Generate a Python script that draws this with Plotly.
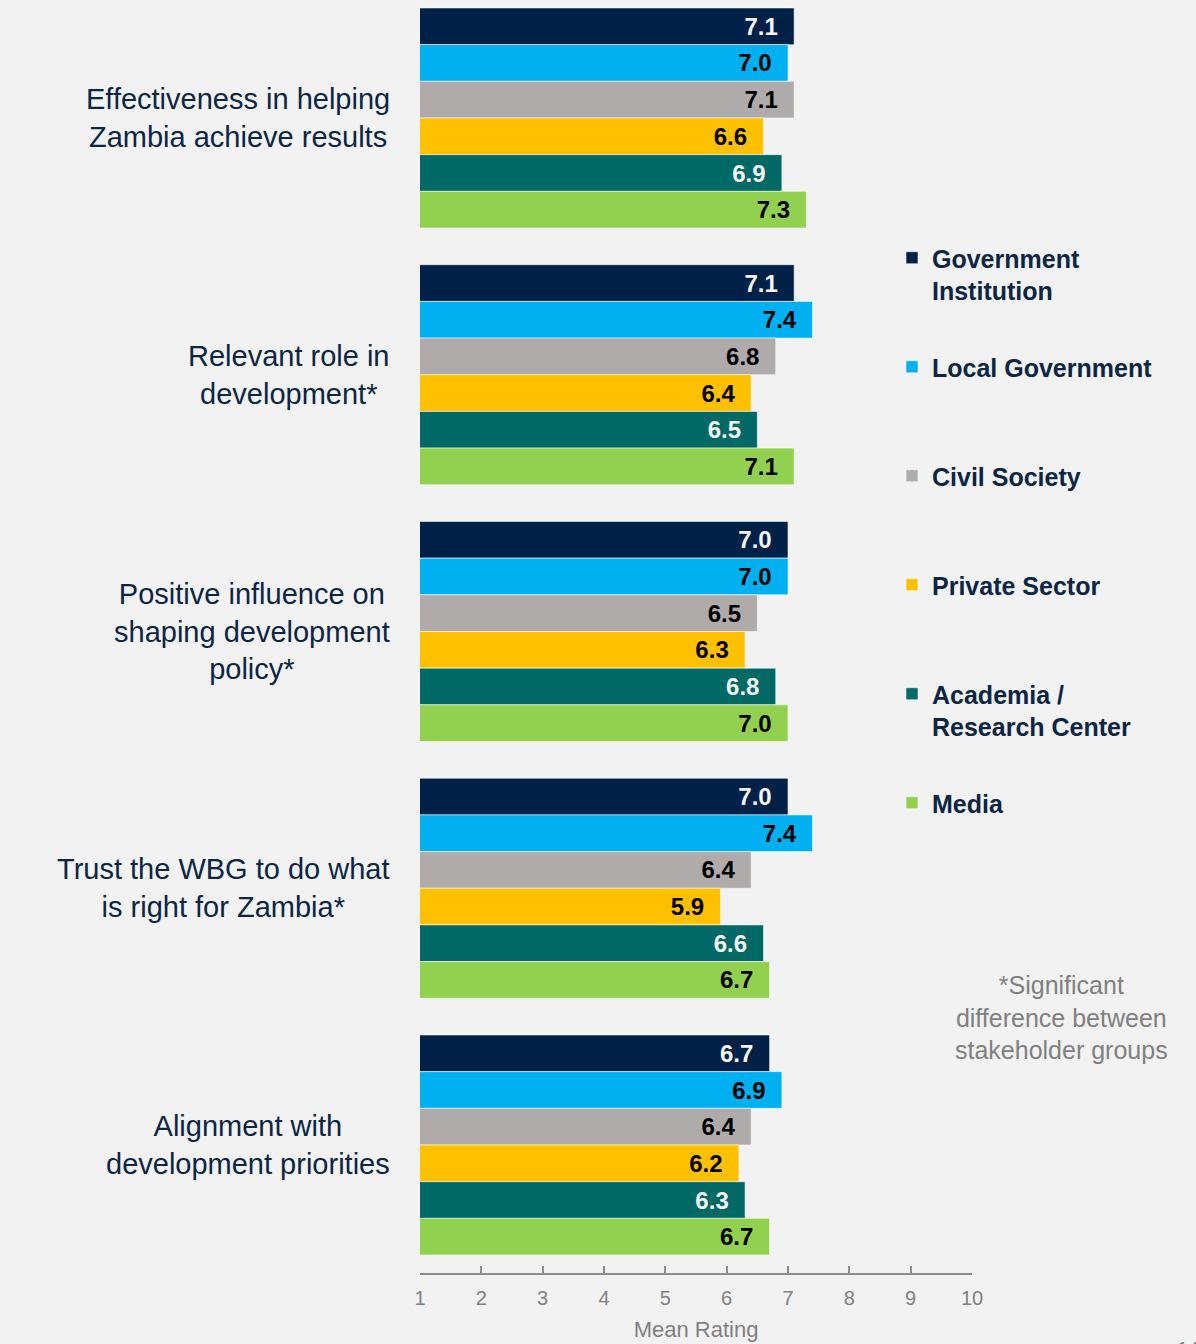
import plotly.graph_objects as go

categories = [
    "Effectiveness in helping<br>Zambia achieve results",
    "Relevant role in<br>development*",
    "Positive influence on<br>shaping development<br>policy*",
    "Trust the WBG to do what<br>is right for Zambia*",
    "Alignment with<br>development priorities",
]
cat_keys = ["Effectiveness", "Relevant", "Positive", "Trust", "Alignment"]

groups = ["Government<br>Institution", "Local Government<br> ", "Civil Society<br> ",
          "Private Sector<br> ", "Academia /<br>Research Center", "Media<br> "]

gov_inst = [7.1, 7.1, 7.0, 7.0, 6.7]
local_gov = [7.0, 7.4, 7.0, 7.4, 6.9]
civil_soc = [7.1, 6.8, 6.5, 6.4, 6.4]
private_sec = [6.6, 6.4, 6.3, 5.9, 6.2]
academia = [6.9, 6.5, 6.8, 6.6, 6.3]
media = [7.3, 7.1, 7.0, 6.7, 6.7]

series = [gov_inst, local_gov, civil_soc, private_sec, academia, media]
colors = ["#002147", "#00B0F0", "#AFABAA", "#FFC000", "#006865", "#92D050"]
text_colors = ["#F4F4F4", "black", "black", "black", "#F4F4F4", "black"]

ticks = [1, 2, 3, 4, 5, 6, 7, 8, 9, 10]

NAVY = "#0B2545"
GRAY = "#808080"
FONT = "Liberation Sans, Arial, sans-serif"
NARROW = "Liberation Sans Narrow, Arial Narrow, Liberation Sans, Arial, sans-serif"
PAD = "\u00a0\u00a0"

fig = go.Figure()
for name, vals, col, tcol in zip(groups, series, colors, text_colors):
    fig.add_trace(go.Bar(
        y=cat_keys, x=vals, name=name, orientation="h",
        marker=dict(color=col, line=dict(color="rgba(255,255,255,0.55)", width=1)),
        text=[f"{v:.1f}{PAD}" for v in vals],
        textposition="inside", insidetextanchor="end",
        textfont=dict(family=FONT, size=24, color=tcol, weight="bold"),
        legendgroup=name,
    ))

for key, label in zip(cat_keys, categories):
    fig.add_annotation(
        x=0, xref="paper", y=key, yref="y", xanchor="right", xshift=-28,
        text=label, showarrow=False, align="center",
        font=dict(family=FONT, size=29, color=NAVY),
    )

fig.add_annotation(
    x=(1061 - 420) / 552, xref="paper", y=1 - 1017 / 1273, yref="paper",
    text="*Significant<br>difference between<br>stakeholder groups",
    showarrow=False, align="center", xanchor="center", yanchor="middle",
    font=dict(family=FONT, size=25, color=GRAY),
)
fig.add_annotation(
    x=(1188 - 420) / 552, xref="paper", y=1 - 1349 / 1273, yref="paper",
    text="14", showarrow=False, xanchor="center", yanchor="middle",
    font=dict(family=FONT, size=20, color=GRAY),
)

fig.update_layout(
    width=1196, height=1344,
    margin=dict(l=420, r=224, t=0, b=71),
    paper_bgcolor="#F2F2F2", plot_bgcolor="#F2F2F2",
    barmode="group", bargap=0.143, bargroupgap=0,
    showlegend=True,
    legend=dict(
        x=(892 - 420) / 552, xanchor="left", y=1 - 235 / 1273, yanchor="top",
        bgcolor="rgba(0,0,0,0)", traceorder="grouped", tracegroupgap=41,
        valign="top",
        font=dict(family=FONT, size=25, color=NAVY, weight="bold"),
    ),
    xaxis=dict(
        range=[1, 10], tickvals=ticks, ticktext=[str(t) for t in ticks],
        showgrid=False, zeroline=False, showline=True, linecolor="#8C8C8C", linewidth=2,
        ticks="inside", ticklen=7, tickwidth=1.5, tickcolor="#8C8C8C",
        tickfont=dict(family=NARROW, size=20, color=GRAY),
        ticklabelstandoff=6,
        title=dict(text="Mean Rating", standoff=14, font=dict(family=NARROW, size=22, color=GRAY)),
        automargin=False, fixedrange=True,
    ),
    yaxis=dict(
        type="category", categoryorder="array", categoryarray=cat_keys,
        range=[4.4985, -0.4596], showticklabels=False, showgrid=False,
        zeroline=False, showline=False, ticks="", automargin=False, fixedrange=True,
    ),
)

fig.write_html(
    "out.html",
    config={"displayModeBar": False},
    post_script="document.body.style.margin='0';document.body.style.overflow='hidden';",
)
